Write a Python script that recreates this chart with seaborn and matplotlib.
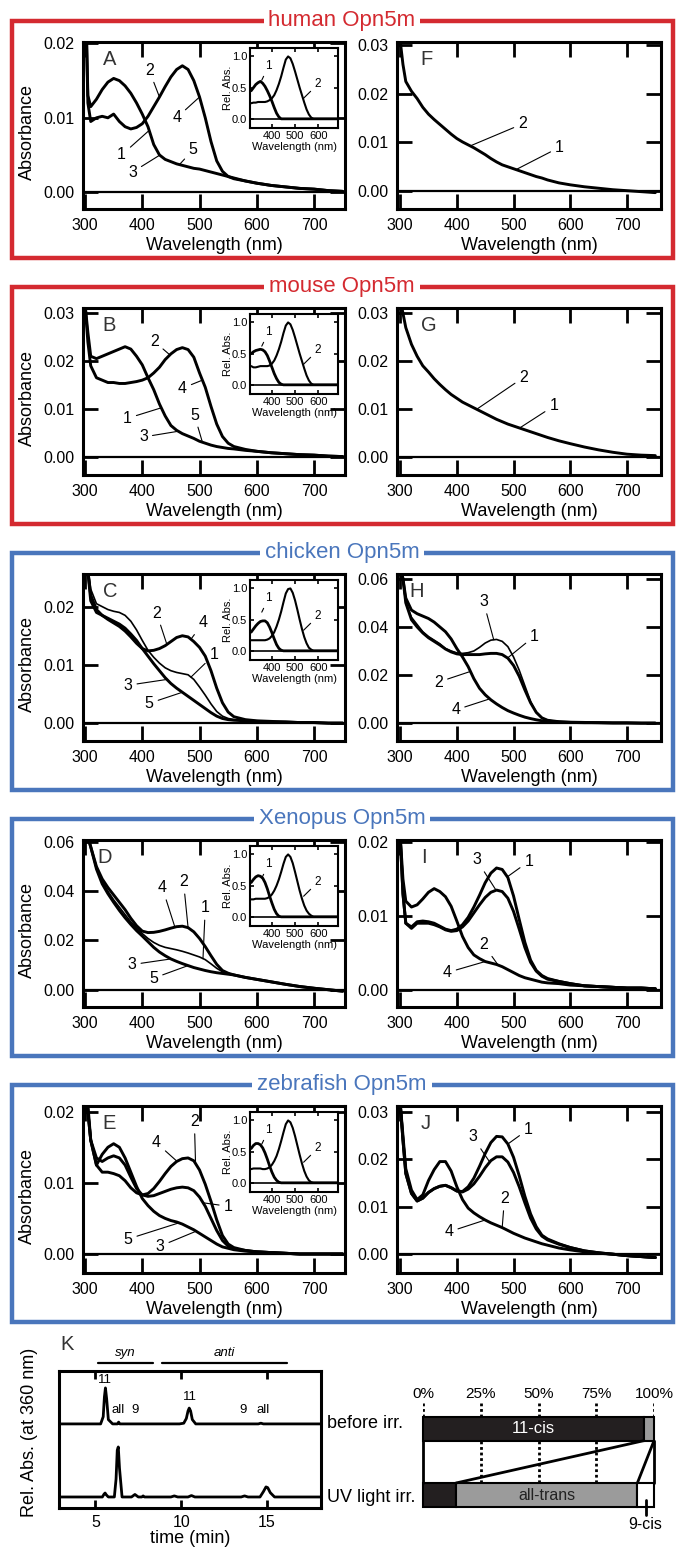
import matplotlib
matplotlib.use("Agg")
import matplotlib.pyplot as plt
from matplotlib.patches import Rectangle
import seaborn as sns

# ---------------- data ----------------
# wavelength grid (nm) the absorption spectra were read at
WL = [300, 305, 310, 320, 330, 340, 350, 360, 370, 380, 390, 400, 410, 420,
      430, 440, 450, 460, 470, 480, 490, 500, 510, 520, 530, 540, 550, 560,
      580, 600, 625, 650, 675, 700, 725, 750]

# A  human Opn5m (curves 1/3/5 and 2/4 overlap)
human_135 = [0.030, 0.013, 0.0115, 0.0125, 0.0138, 0.0148, 0.0153, 0.0150, 0.0143, 0.0133,
             0.0120, 0.0105, 0.0088, 0.0064, 0.0050, 0.0044, 0.0041, 0.0038, 0.0036, 0.0034,
             0.0032, 0.0031, 0.0029, 0.0027, 0.0025, 0.0023, 0.0021, 0.0019, 0.0015, 0.0012,
             0.0009, 0.0007, 0.0005, 0.0004, 0.0002, 0.0001]
human_24 = [0.030, 0.012, 0.0095, 0.0100, 0.0102, 0.0100, 0.0105, 0.0095, 0.0088, 0.0085,
            0.0087, 0.0092, 0.0102, 0.0115, 0.0128, 0.0142, 0.0155, 0.0165, 0.0170, 0.0165,
            0.0150, 0.0128, 0.0100, 0.0068, 0.0042, 0.0028, 0.0021, 0.0018, 0.0015, 0.0012,
            0.0009, 0.0007, 0.0005, 0.0004, 0.0002, 0.0001]
# F  human, curves 1 and 2 overlap
human_f = [0.031, 0.026, 0.0225, 0.0205, 0.0190, 0.0172, 0.0158, 0.0147, 0.0137, 0.0127,
           0.0117, 0.0108, 0.0101, 0.0095, 0.0089, 0.0082, 0.0075, 0.0067, 0.0060, 0.0054,
           0.0050, 0.0046, 0.0042, 0.0038, 0.0034, 0.0030, 0.0027, 0.0023, 0.0017, 0.0013,
           0.0009, 0.0006, 0.0003, 0.0001, -0.0001, -0.0003]

# B  mouse Opn5m
mouse_135 = [0.032, 0.026, 0.021, 0.0205, 0.0210, 0.0215, 0.0220, 0.0225, 0.0230, 0.0225,
             0.0210, 0.0192, 0.0165, 0.0140, 0.0110, 0.0085, 0.0065, 0.0055, 0.0048, 0.0043,
             0.0038, 0.0032, 0.0028, 0.0024, 0.0021, 0.0019, 0.0017, 0.0016, 0.0013, 0.0011,
             0.0008, 0.0006, 0.0004, 0.0003, 0.0001, 0.0000]
mouse_24 = [0.032, 0.024, 0.019, 0.0165, 0.0160, 0.0155, 0.0155, 0.0153, 0.0153, 0.0155,
            0.0157, 0.0160, 0.0165, 0.0175, 0.0187, 0.0203, 0.0215, 0.0224, 0.0228, 0.0224,
            0.0208, 0.0175, 0.0145, 0.0105, 0.0068, 0.0042, 0.0028, 0.0021, 0.0015, 0.0011,
            0.0008, 0.0006, 0.0004, 0.0003, 0.0001, 0.0000]
# G  mouse, curves 1 and 2 overlap
mouse_g = [0.033, 0.030, 0.027, 0.0235, 0.0210, 0.0190, 0.0177, 0.0163, 0.0151, 0.0140,
           0.0130, 0.0122, 0.0114, 0.0108, 0.0102, 0.0096, 0.0090, 0.0084, 0.0078, 0.0073,
           0.0068, 0.0064, 0.0060, 0.0056, 0.0052, 0.0048, 0.0044, 0.0040, 0.0033, 0.0027,
           0.0020, 0.0014, 0.0009, 0.0005, 0.0003, 0.0002]

# C  chicken Opn5m
chicken_1 = [0.030, 0.027, 0.023, 0.0205, 0.0200, 0.0195, 0.0192, 0.0190, 0.0185, 0.0175,
             0.0160, 0.0142, 0.0125, 0.0113, 0.0103, 0.0095, 0.0090, 0.0087, 0.0085, 0.0083,
             0.0075, 0.0062, 0.0048, 0.0033, 0.0020, 0.0012, 0.0008, 0.0006, 0.0004, 0.0003,
             0.0002, 0.0002, 0.0001, 0.0001, 0.0000, 0.0000]
chicken_24 = [0.030, 0.026, 0.022, 0.0195, 0.0185, 0.0178, 0.0172, 0.0166, 0.0158, 0.0148,
              0.0137, 0.0128, 0.0124, 0.0125, 0.0128, 0.0133, 0.0140, 0.0147, 0.0150, 0.0148,
              0.0140, 0.0130, 0.0115, 0.0090, 0.0060, 0.0035, 0.0019, 0.0011, 0.0006, 0.0004,
              0.0003, 0.0002, 0.0001, 0.0001, 0.0000, 0.0000]
chicken_35 = [0.030, 0.026, 0.021, 0.0190, 0.0185, 0.0180, 0.0175, 0.0170, 0.0163, 0.0153,
              0.0142, 0.0128, 0.0115, 0.0102, 0.0090, 0.0078, 0.0068, 0.0060, 0.0053, 0.0046,
              0.0039, 0.0032, 0.0025, 0.0018, 0.0012, 0.0008, 0.0006, 0.0005, 0.0004, 0.0003,
              0.0002, 0.0002, 0.0001, 0.0001, 0.0000, 0.0000]
# H  chicken
chicken_h1 = [0.065, 0.060, 0.050, 0.043, 0.040, 0.0375, 0.0355, 0.0340, 0.0325, 0.0308,
              0.0296, 0.0288, 0.0285, 0.0285, 0.0285, 0.0285, 0.0288, 0.0290, 0.0290, 0.0285,
              0.0270, 0.0240, 0.0195, 0.0138, 0.0085, 0.0045, 0.0022, 0.0012, 0.0006, 0.0004,
              0.0003, 0.0002, 0.0001, 0.0001, 0.0000, 0.0000]
chicken_h3 = [0.065, 0.060, 0.050, 0.044, 0.041, 0.038, 0.036, 0.0345, 0.0330, 0.0310,
              0.0300, 0.0292, 0.0290, 0.0293, 0.0300, 0.0315, 0.0333, 0.0345, 0.0348, 0.0340,
              0.0318, 0.0275, 0.0220, 0.0155, 0.0090, 0.0045, 0.0022, 0.0012, 0.0006, 0.0004,
              0.0003, 0.0002, 0.0001, 0.0001, 0.0000, 0.0000]
chicken_h24 = [0.065, 0.060, 0.052, 0.047, 0.0455, 0.0445, 0.0435, 0.0420, 0.0400, 0.0380,
               0.0350, 0.0310, 0.0275, 0.0235, 0.0185, 0.0145, 0.0118, 0.0097, 0.0080, 0.0065,
               0.0052, 0.0042, 0.0033, 0.0025, 0.0019, 0.0014, 0.0010, 0.0008, 0.0005, 0.0003,
               0.0002, 0.0002, 0.0001, 0.0001, 0.0000, 0.0000]

# D  Xenopus Opn5m
xenopus_1 = [0.065, 0.062, 0.058, 0.049, 0.044, 0.040, 0.0365, 0.0335, 0.0305, 0.0275,
             0.0250, 0.0228, 0.0208, 0.0192, 0.0180, 0.0172, 0.0167, 0.0162, 0.0156, 0.0149,
             0.0141, 0.0133, 0.0122, 0.0105, 0.0087, 0.0073, 0.0066, 0.0060, 0.0050, 0.0042,
             0.0032, 0.0022, 0.0013, 0.0006, 0.0000, -0.0006]
xenopus_24 = [0.065, 0.062, 0.058, 0.050, 0.045, 0.0415, 0.0385, 0.0355, 0.0325, 0.0290,
              0.0260, 0.0238, 0.0232, 0.0233, 0.0237, 0.0243, 0.0250, 0.0256, 0.0258, 0.0252,
              0.0235, 0.0208, 0.0175, 0.0138, 0.0103, 0.0078, 0.0067, 0.0060, 0.0050, 0.0042,
              0.0032, 0.0022, 0.0013, 0.0006, 0.0000, -0.0006]
xenopus_35 = [0.065, 0.062, 0.058, 0.049, 0.043, 0.039, 0.0355, 0.0322, 0.0292, 0.0265,
              0.0240, 0.0218, 0.0195, 0.0172, 0.0153, 0.0138, 0.0125, 0.0115, 0.0106, 0.0098,
              0.0090, 0.0084, 0.0078, 0.0073, 0.0069, 0.0066, 0.0063, 0.0060, 0.0050, 0.0042,
              0.0032, 0.0022, 0.0013, 0.0006, 0.0000, -0.0006]
# I  Xenopus
xenopus_i1 = [0.021, 0.013, 0.009, 0.0085, 0.0092, 0.0093, 0.0092, 0.0090, 0.0086, 0.0082,
              0.0080, 0.0082, 0.0088, 0.0098, 0.0112, 0.0128, 0.0145, 0.0158, 0.0165, 0.0163,
              0.0152, 0.0127, 0.0095, 0.0064, 0.0040, 0.0026, 0.0019, 0.0015, 0.0011, 0.0008,
              0.0005, 0.0004, 0.0003, 0.0002, 0.0002, 0.0001]
xenopus_i3 = [0.021, 0.013, 0.009, 0.0083, 0.0090, 0.0090, 0.0090, 0.0088, 0.0085, 0.0081,
              0.0079, 0.0080, 0.0085, 0.0093, 0.0104, 0.0115, 0.0125, 0.0132, 0.0135, 0.0133,
              0.0124, 0.0106, 0.0082, 0.0057, 0.0037, 0.0025, 0.0018, 0.0014, 0.0011, 0.0008,
              0.0005, 0.0004, 0.0003, 0.0002, 0.0002, 0.0001]
xenopus_i24 = [0.021, 0.015, 0.012, 0.0112, 0.0115, 0.0123, 0.0132, 0.0137, 0.0133, 0.0126,
               0.0113, 0.0093, 0.0072, 0.0057, 0.0047, 0.0042, 0.0038, 0.0036, 0.0034, 0.0031,
               0.0027, 0.0023, 0.0019, 0.0016, 0.0014, 0.0012, 0.0010, 0.0009, 0.0008, 0.0006,
               0.0005, 0.0004, 0.0003, 0.0002, 0.0002, 0.0001]

# E  zebrafish Opn5m
zebrafish_1 = [0.025, 0.020, 0.016, 0.0135, 0.0130, 0.0135, 0.0138, 0.0135, 0.0125, 0.0108,
               0.0092, 0.0083, 0.0081, 0.0082, 0.0085, 0.0088, 0.0091, 0.0093, 0.0094, 0.0093,
               0.0089, 0.0080, 0.0067, 0.0050, 0.0033, 0.0019, 0.0011, 0.0007, 0.0005, 0.0003,
               0.0002, 0.0001, 0.0000, 0.0000, 0.0000, 0.0000]
zebrafish_24 = [0.025, 0.020, 0.016, 0.0125, 0.0115, 0.0115, 0.0113, 0.0110, 0.0103, 0.0093,
                0.0086, 0.0083, 0.0085, 0.0092, 0.0102, 0.0113, 0.0123, 0.0130, 0.0134, 0.0135,
                0.0131, 0.0118, 0.0098, 0.0074, 0.0048, 0.0026, 0.0014, 0.0009, 0.0005, 0.0003,
                0.0002, 0.0001, 0.0000, 0.0000, 0.0000, 0.0000]
zebrafish_35 = [0.025, 0.021, 0.016, 0.0125, 0.0140, 0.0150, 0.0155, 0.0150, 0.0135, 0.0115,
                0.0095, 0.0078, 0.0068, 0.0060, 0.0054, 0.0050, 0.0047, 0.0045, 0.0042, 0.0038,
                0.0034, 0.0029, 0.0024, 0.0019, 0.0014, 0.0010, 0.0008, 0.0006, 0.0004, 0.0003,
                0.0002, 0.0001, 0.0000, 0.0000, 0.0000, 0.0000]
# J  zebrafish
zebrafish_j1 = [0.032, 0.024, 0.017, 0.0128, 0.0112, 0.0118, 0.0130, 0.0138, 0.0143, 0.0145,
                0.0140, 0.0133, 0.0132, 0.0142, 0.0160, 0.0185, 0.0212, 0.0235, 0.0248, 0.0247,
                0.0232, 0.0204, 0.0165, 0.0122, 0.0085, 0.0058, 0.0040, 0.0032, 0.0022, 0.0014,
                0.0007, 0.0003, 0.0000, -0.0003, -0.0005, -0.0007]
zebrafish_j3 = [0.032, 0.024, 0.017, 0.0128, 0.0112, 0.0118, 0.0130, 0.0138, 0.0143, 0.0145,
                0.0140, 0.0133, 0.0131, 0.0137, 0.0148, 0.0164, 0.0182, 0.0197, 0.0205, 0.0205,
                0.0194, 0.0172, 0.0142, 0.0108, 0.0076, 0.0053, 0.0038, 0.0030, 0.0021, 0.0014,
                0.0007, 0.0003, 0.0000, -0.0003, -0.0005, -0.0007]
zebrafish_j24 = [0.032, 0.025, 0.018, 0.0135, 0.0115, 0.0125, 0.0155, 0.0178, 0.0195, 0.0195,
                 0.0175, 0.0142, 0.0115, 0.0097, 0.0087, 0.0079, 0.0072, 0.0066, 0.0061, 0.0056,
                 0.0050, 0.0044, 0.0039, 0.0034, 0.0030, 0.0026, 0.0022, 0.0019, 0.0013, 0.0009,
                 0.0005, 0.0002, 0.0000, -0.0003, -0.0005, -0.0007]

# insets: normalised difference spectra
INSET_WL = [310, 320, 330, 340, 350, 360, 370, 380, 390, 400, 410, 420, 430, 440, 450,
            460, 470, 480, 490, 500, 510, 520, 530, 540, 550, 560, 570, 580, 600, 650, 690]
human_inset_1 = [0.45, 0.50, 0.55, 0.58, 0.60, 0.57, 0.52, 0.45, 0.37, 0.28, 0.18, 0.09, 0.03,
                 0.0, 0.0, 0.0, 0.0, 0.0, 0.0, 0.0, 0.0, 0.0, 0.0, 0.0, 0.0, 0.0, 0.0, 0.0,
                 0.0, 0.0, 0.0]
human_inset_2 = [0.25, 0.26, 0.26, 0.27, 0.27, 0.27, 0.27, 0.28, 0.30, 0.33, 0.38, 0.46, 0.56,
                 0.68, 0.82, 0.95, 1.00, 0.97, 0.88, 0.76, 0.63, 0.50, 0.38, 0.26, 0.15, 0.07,
                 0.02, 0.0, 0.0, 0.0, 0.0]
mouse_inset_1 = [0.50, 0.53, 0.55, 0.56, 0.57, 0.56, 0.53, 0.47, 0.38, 0.28, 0.18, 0.10, 0.04,
                 0.01, 0.0, 0.0, 0.0, 0.0, 0.0, 0.0, 0.0, 0.0, 0.0, 0.0, 0.0, 0.0, 0.0, 0.0,
                 0.0, 0.0, 0.0]
mouse_inset_2 = [0.30, 0.28, 0.28, 0.29, 0.30, 0.30, 0.30, 0.30, 0.31, 0.34, 0.39, 0.47, 0.57,
                 0.69, 0.83, 0.95, 1.00, 0.97, 0.88, 0.76, 0.63, 0.50, 0.38, 0.26, 0.15, 0.07,
                 0.02, 0.0, 0.0, 0.0, 0.0]
chicken_inset_1 = [0.30, 0.35, 0.40, 0.44, 0.47, 0.48, 0.48, 0.45, 0.38, 0.29, 0.19, 0.10, 0.04,
                   0.01, 0.0, 0.0, 0.0, 0.0, 0.0, 0.0, 0.0, 0.0, 0.0, 0.0, 0.0, 0.0, 0.0, 0.0,
                   0.0, 0.0, 0.0]
chicken_inset_2 = [0.17, 0.17, 0.17, 0.17, 0.17, 0.17, 0.17, 0.18, 0.20, 0.24, 0.30, 0.39, 0.50,
                   0.63, 0.78, 0.92, 0.99, 1.00, 0.93, 0.81, 0.66, 0.50, 0.35, 0.22, 0.12, 0.05,
                   0.02, 0.0, 0.0, 0.0, 0.0]
xenopus_inset_1 = [0.55, 0.60, 0.64, 0.66, 0.65, 0.62, 0.55, 0.45, 0.33, 0.22, 0.12, 0.05, 0.01,
                   0.0, 0.0, 0.0, 0.0, 0.0, 0.0, 0.0, 0.0, 0.0, 0.0, 0.0, 0.0, 0.0, 0.0, 0.0,
                   0.0, 0.0, 0.0]
xenopus_inset_2 = [0.28, 0.28, 0.29, 0.29, 0.29, 0.29, 0.29, 0.30, 0.32, 0.36, 0.42, 0.50, 0.60,
                   0.72, 0.85, 0.96, 1.00, 0.96, 0.86, 0.72, 0.57, 0.42, 0.29, 0.18, 0.10, 0.05,
                   0.02, 0.0, 0.0, 0.0, 0.0]
zebrafish_inset_1 = [0.55, 0.60, 0.63, 0.63, 0.61, 0.56, 0.48, 0.38, 0.27, 0.17, 0.09, 0.04, 0.01,
                     0.0, 0.0, 0.0, 0.0, 0.0, 0.0, 0.0, 0.0, 0.0, 0.0, 0.0, 0.0, 0.0, 0.0, 0.0,
                     0.0, 0.0, 0.0]
zebrafish_inset_2 = [0.22, 0.23, 0.23, 0.23, 0.23, 0.22, 0.22, 0.23, 0.25, 0.29, 0.35, 0.43, 0.54,
                     0.67, 0.81, 0.94, 1.00, 0.97, 0.88, 0.75, 0.60, 0.45, 0.31, 0.19, 0.10, 0.04,
                     0.01, 0.0, 0.0, 0.0, 0.0]

# K  HPLC chromatograms (time in min, relative absorbance at 360 nm)
hplc_time_before = [3.0, 5.30, 5.45, 5.52, 5.58, 5.65, 5.75, 6.00, 6.28, 6.35, 6.42, 9.90,
                    10.15, 10.30, 10.40, 10.47, 10.55, 10.65, 10.85, 14.50, 14.65, 14.80, 18.2]
hplc_abs_before = [0.0, 0.0, 0.20, 0.75, 1.00, 0.70, 0.12, 0.0, 0.0, 0.05, 0.0, 0.0,
                   0.02, 0.15, 0.36, 0.44, 0.36, 0.12, 0.0, 0.0, 0.02, 0.0, 0.0]
hplc_time_uv = [3.0, 5.40, 5.50, 5.56, 5.63, 5.75, 6.10, 6.20, 6.27, 6.33, 6.40, 6.55,
                7.10, 7.30, 7.50, 7.70, 7.78, 7.86, 9.40, 9.60, 9.80, 10.40, 10.60, 10.80,
                13.50, 13.70, 13.90, 14.60, 14.80, 14.95, 15.05, 15.20, 15.45, 18.2]
hplc_abs_uv = [0.0, 0.0, 0.08, 0.11, 0.06, 0.0, 0.0, 0.50, 1.30, 1.39, 0.80, 0.0,
               0.0, 0.07, 0.0, 0.0, 0.03, 0.0, 0.0, 0.03, 0.0, 0.0, 0.04, 0.0,
               0.0, 0.03, 0.0, 0.0, 0.15, 0.28, 0.26, 0.12, 0.0, 0.0]
peak_labels = ["11", "all", "9", "11", "9", "all"]
peak_label_time = [5.55, 6.3, 7.3, 10.5, 13.6, 14.8]

# isomer composition (%)
isomers = ["11-cis", "all-trans", "9-cis"]
pct_before = [95.5, 4.5, 0.0]
pct_uv = [14.3, 78.5, 7.2]

# ---------------- layout ----------------
FIG_W, FIG_H = 677, 1548
BOX_TOP0, BOX_STEP, BOX_H = 20.7, 266.0, 237.0
RED, BLUE = "#d42a30", "#4a76bc"
BLACK, GRAY = "#231f20", "#9b9b9b"


def px_axes(fig, x0, y0, x1, y1):
    return fig.add_axes([x0 / FIG_W, 1 - y1 / FIG_H, (x1 - x0) / FIG_W, (y1 - y0) / FIG_H])


def note(ax, label, text_xy, target_xy, size=11.5):
    ax.annotate(label, xy=target_xy, xytext=text_xy, ha="center", va="center", fontsize=size,
                arrowprops=dict(arrowstyle="-", color="black", lw=0.8, shrinkA=1, shrinkB=0))


def spectrum(fig, row, side, curves, ylim, yticks, letter, letter_x, notes, thin=()):
    top = BOX_TOP0 + row * BOX_STEP
    if side == 0:
        ax = px_axes(fig, 83, top + 21.3, 345, top + 188.5)
        ax.set_xlim(296.5, 754)
    else:
        ax = px_axes(fig, 397, top + 21.3, 661, top + 188.5)
        ax.set_xlim(294.5, 760)
    for i, vals in enumerate(curves):
        sns.lineplot(x=WL, y=vals, ax=ax, color="black", linewidth=1.2 if i in thin else 2.1,
                     estimator=None, sort=False, legend=False)
    ax.axhline(0, color="black", lw=1.6, zorder=1)
    ax.set_ylim(*ylim)
    ax.set_xticks([300, 400, 500, 600, 700])
    ax.set_yticks(yticks)
    ax.set_yticklabels([f"{t:.2f}" for t in yticks])
    ax.tick_params(direction="in", length=11, width=2, top=True, right=True,
                   labelsize=11.5, pad=6)
    for s in ax.spines.values():
        s.set_linewidth(2.2)
    ax.set_xlabel("Wavelength (nm)", fontsize=13)
    ax.xaxis.set_label_coords(0.5, -0.166)
    if side == 0:
        ax.set_ylabel("Absorbance", fontsize=13)
        ax.yaxis.set_label_coords(-0.178, 0.46)
    else:
        ax.set_ylabel("")
    ax.text(letter_x, 0.895, letter, transform=ax.transAxes, fontsize=14.5, color="#333333",
            ha="left", va="center")
    for label, txt, tgt in notes:
        note(ax, label, txt, tgt)
    return ax


def inset(fig, row, c1, c2):
    top = BOX_TOP0 + row * BOX_STEP
    ax = px_axes(fig, 250, top + 27, 338, top + 107.5)
    ax.set_facecolor("white")
    sns.lineplot(x=INSET_WL, y=c2, ax=ax, color="black", linewidth=1.5,
                 estimator=None, sort=False, legend=False)
    sns.lineplot(x=INSET_WL, y=c1, ax=ax, color="black", linewidth=2.0,
                 estimator=None, sort=False, legend=False)
    ax.axhline(0, color="black", lw=1.2)
    ax.set_xlim(305, 686)
    ax.set_ylim(-0.15, 1.14)
    ax.set_xticks([400, 500, 600])
    ax.set_yticks([0.0, 0.5, 1.0])
    ax.set_yticklabels(["0.0", "0.5", "1.0"])
    ax.tick_params(direction="in", length=3, width=1.2, top=True, right=True,
                   labelsize=8, pad=2)
    for s in ax.spines.values():
        s.set_linewidth(1.5)
    ax.set_xlabel("Wavelength (nm)", fontsize=8)
    ax.xaxis.set_label_coords(0.5, -0.17)
    ax.set_ylabel("Rel. Abs.", fontsize=8)
    ax.yaxis.set_label_coords(-0.19, 0.5)
    note(ax, "1", (386, 0.85), (356, 0.62), size=8.5)
    note(ax, "2", (600, 0.56), (537, 0.33), size=8.5)


def main():
    sns.set_theme(style="ticks", rc={"axes.edgecolor": "black", "xtick.color": "black",
                                     "ytick.color": "black", "axes.labelcolor": "black",
                                     "text.color": "black"})
    plt.rcParams["font.family"] = ["Liberation Sans", "DejaVu Sans"]

    fig = plt.figure(figsize=(FIG_W / 100, FIG_H / 100), dpi=100)

    # overlay in pixel units for frames and free text
    over = fig.add_axes([0, 0, 1, 1])
    over.set_xlim(0, FIG_W)
    over.set_ylim(FIG_H, 0)
    over.axis("off")
    titles = ["human Opn5m", "mouse Opn5m", "chicken Opn5m", "Xenopus Opn5m", "zebrafish Opn5m"]
    colors = [RED, RED, BLUE, BLUE, BLUE]
    for i, (title, col) in enumerate(zip(titles, colors)):
        top = BOX_TOP0 + i * BOX_STEP
        over.add_patch(Rectangle((11.5, top), 661.5, BOX_H, fill=False, ec=col, lw=3.2))
        over.text(342, top, title, color=col, fontsize=16, ha="center", va="center",
                  bbox=dict(fc="white", ec="none", pad=3.5))

    # row 0: human
    spectrum(fig, 0, 0, [human_135, human_24], (-0.0023, 0.0202), [0, 0.01, 0.02], "A", 0.075,
             [("2", (412, 0.0164), (430, 0.0128)), ("4", (460, 0.0100), (500, 0.0128)),
              ("1", (364, 0.0050), (412, 0.0083)), ("3", (383, 0.0027), (431, 0.0050)),
              ("5", (489, 0.0057), (466, 0.0038))])
    inset(fig, 0, human_inset_1, human_inset_2)
    spectrum(fig, 0, 1, [human_f], (-0.0037, 0.0306), [0, 0.01, 0.02, 0.03], "F", 0.09,
             [("2", (516, 0.0138), (424, 0.0093)), ("1", (581, 0.0090), (504, 0.0044))])

    # row 1: mouse
    spectrum(fig, 1, 0, [mouse_135, mouse_24], (-0.0039, 0.0311), [0, 0.01, 0.02, 0.03], "B", 0.075,
             [("2", (421, 0.0241), (448, 0.0213)), ("4", (470, 0.0143), (505, 0.0160)),
              ("1", (374, 0.0080), (433, 0.0102)), ("3", (402, 0.0041), (463, 0.0053)),
              ("5", (491, 0.0087), (505, 0.0030))])
    inset(fig, 1, mouse_inset_1, mouse_inset_2)
    spectrum(fig, 1, 1, [mouse_g], (-0.0039, 0.0311), [0, 0.01, 0.02, 0.03], "G", 0.09,
             [("2", (518, 0.0166), (435, 0.0099)), ("1", (571, 0.0106), (511, 0.0060))])

    # row 2: chicken
    spectrum(fig, 2, 0, [chicken_1, chicken_24, chicken_35], (-0.0031, 0.0256), [0, 0.01, 0.02],
             "C", 0.075,
             [("2", (425, 0.0189), (443, 0.0135)), ("4", (506, 0.0172), (485, 0.0144)),
              ("1", (525, 0.0117), (485, 0.0079)), ("3", (375, 0.0065), (443, 0.0075)),
              ("5", (412, 0.0034), (470, 0.0053))], thin=(0,))
    inset(fig, 2, chicken_inset_1, chicken_inset_2)
    spectrum(fig, 2, 1, [chicken_h1, chicken_h3, chicken_h24], (-0.0075, 0.062),
             [0, 0.02, 0.04, 0.06], "H", 0.045,
             [("3", (447, 0.0505), (465, 0.0347)), ("1", (537, 0.0362), (490, 0.0272)),
              ("2", (368, 0.0171), (424, 0.0215)), ("4", (398, 0.0055), (458, 0.0101))],
             thin=(1,))

    # row 3: Xenopus
    spectrum(fig, 3, 0, [xenopus_1, xenopus_24, xenopus_35], (-0.0071, 0.0608),
             [0, 0.02, 0.04, 0.06], "D", 0.055,
             [("4", (435, 0.0414), (457, 0.0254)), ("2", (472, 0.0438), (480, 0.0252)),
              ("1", (510, 0.0332), (506, 0.0126)), ("3", (382, 0.0102), (450, 0.0125)),
              ("5", (420, 0.0047), (480, 0.0098))], thin=(0,))
    inset(fig, 3, xenopus_inset_1, xenopus_inset_2)
    spectrum(fig, 3, 1, [xenopus_i1, xenopus_i3, xenopus_i24], (-0.0024, 0.0203),
             [0, 0.01, 0.02], "I", 0.09,
             [("3", (435, 0.0176), (469, 0.0135)), ("1", (527, 0.0174), (489, 0.0153)),
              ("2", (447, 0.0061), (473, 0.0033)), ("4", (383, 0.0023), (450, 0.0038))])

    # row 4: zebrafish
    spectrum(fig, 4, 0, [zebrafish_1, zebrafish_24, zebrafish_35], (-0.0027, 0.0208),
             [0, 0.01, 0.02], "E", 0.075,
             [("4", (425, 0.0156), (461, 0.0130)), ("2", (491, 0.0186), (493, 0.0128)),
              ("1", (550, 0.0067), (506, 0.0072)), ("5", (375, 0.0021), (465, 0.0044)),
              ("3", (431, 0.0011), (494, 0.0032))])
    inset(fig, 4, zebrafish_inset_1, zebrafish_inset_2)
    spectrum(fig, 4, 1, [zebrafish_j1, zebrafish_j3, zebrafish_j24], (-0.0040, 0.0312),
             [0, 0.01, 0.02, 0.03], "J", 0.09,
             [("3", (428, 0.0247), (458, 0.0194)), ("1", (526, 0.0263), (490, 0.0232)),
              ("2", (484, 0.0117), (480, 0.0056)), ("4", (386, 0.0047), (450, 0.0072))])

    # ---- K: HPLC ----
    upper = 2.03  # vertical offset of the "before irr." trace
    hp = px_axes(fig, 59, 1371, 321, 1508)
    sns.lineplot(x=hplc_time_before, y=[v + upper for v in hplc_abs_before], ax=hp,
                 color="black", linewidth=2.0, estimator=None, sort=False, legend=False)
    sns.lineplot(x=hplc_time_uv, y=hplc_abs_uv, ax=hp, color="black", linewidth=2.0,
                 estimator=None, sort=False, legend=False)
    hp.set_xlim(2.87, 18.16)
    hp.set_ylim(-0.306, 3.5)
    hp.set_xticks([5, 10, 15])
    hp.set_yticks([])
    hp.tick_params(direction="in", length=6, width=2, top=True, labelsize=11.5, pad=5)
    for s in hp.spines.values():
        s.set_linewidth(2.2)
    hp.set_xlabel("time (min)", fontsize=13)
    hp.xaxis.set_label_coords(0.5, -0.16)
    hp.set_ylabel("Rel. Abs. (at 360 nm)", fontsize=13)
    hp.yaxis.set_label_coords(-0.08, 0.55)
    label_y = [3.25, 2.42, 2.42, 2.78, 2.42, 2.42]
    for lab, t, y in zip(peak_labels, peak_label_time, label_y):
        hp.text(t, y, lab, fontsize=9.5, ha="center", va="center")
    for x0, x1, name in [(5.13, 8.35, "syn"), (8.86, 16.17, "anti")]:
        hp.plot([x0, x1], [3.72, 3.72], color="black", lw=1.6, clip_on=False)
        hp.text((x0 + x1) / 2, 4.0, name, fontsize=9.5, style="italic",
                ha="center", va="center", clip_on=False)
    over.text(60, 1345, "K", fontsize=14.5, color="#333333", ha="left", va="center")
    over.text(327, 1424, "before irr.", fontsize=13, ha="left", va="center")
    over.text(327, 1497, "UV light irr.", fontsize=13, ha="left", va="center")

    # ---- K: isomer composition bars ----
    bx = px_axes(fig, 423, 1403, 654, 1530)
    bx.set_xlim(0, 100)
    bx.set_ylim(1.528, -0.388)
    seg_colors = [BLACK, GRAY, "white"]
    h = 0.362
    for row_i, pcts in enumerate([pct_before, pct_uv]):
        left = 0.0
        for pct, col in zip(pcts, seg_colors):
            if pct > 0:
                bars = bx.barh([row_i], [pct], left=[left], height=h, color=col,
                               edgecolor="black", linewidth=1.5)
                for p in bars:
                    p.set_clip_on(False)
            left += pct
    # labels inside bars
    bx.text(pct_before[0] / 2, 0, isomers[0], color="white", fontsize=12,
            ha="center", va="center")
    bx.text(pct_uv[0] + pct_uv[1] / 2, 1, isomers[1], color="#222222", fontsize=11.5,
            ha="center", va="center")
    nine_x = pct_uv[0] + pct_uv[1] + pct_uv[2] / 2
    bx.plot([nine_x, nine_x], [1.075, 1.30], color="black", lw=2, clip_on=False)
    bx.text(nine_x, 1.44, isomers[2], fontsize=11.5, ha="center", va="center")
    # dotted guides and connectors
    bx.vlines([0, 25, 50, 75, 100], -0.388, -h / 2, colors="black", lw=2,
              linestyles=(0, (1, 1)))
    bx.vlines([25, 50, 75], h / 2, 1 - h / 2, colors="black", lw=2, linestyles=(0, (1, 1)))
    bx.plot([0, 0], [h / 2, 1 - h / 2], color="black", lw=2, clip_on=False)
    bx.plot([100, 100], [h / 2, 1 - h / 2], color="black", lw=2, clip_on=False)
    bx.plot([pct_before[0], pct_uv[0]], [h / 2, 1 - h / 2], color="black", lw=2)
    bx.plot([pct_before[0] + pct_before[1], pct_uv[0] + pct_uv[1]], [h / 2, 1 - h / 2],
            color="black", lw=2, clip_on=False)
    bx.xaxis.tick_top()
    bx.set_xticks([0, 25, 50, 75, 100])
    bx.set_xticklabels(["0%", "25%", "50%", "75%", "100%"])
    bx.tick_params(axis="x", length=0, pad=1.5, labelsize=11)
    bx.set_yticks([])
    for s in bx.spines.values():
        s.set_visible(False)
    bx.patch.set_alpha(0)

    fig.savefig("out.png", dpi=100)
    plt.close(fig)


if __name__ == "__main__":
    main()
